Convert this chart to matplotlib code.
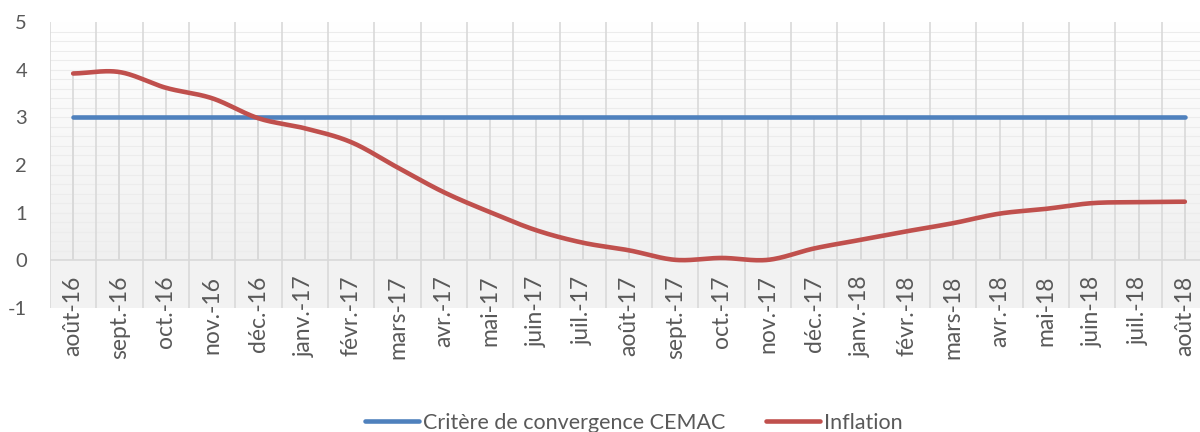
import numpy as np
import matplotlib.pyplot as plt
from matplotlib.colors import LinearSegmentedColormap
from matplotlib.lines import Line2D

months = ["août-16", "sept.-16", "oct.-16", "nov.-16", "déc.-16", "janv.-17", "févr.-17",
          "mars-17", "avr.-17", "mai-17", "juin-17", "juil.-17", "août-17", "sept.-17",
          "oct.-17", "nov.-17", "déc.-17", "janv.-18", "févr.-18", "mars-18", "avr.-18",
          "mai-18", "juin-18", "juil.-18", "août-18"]
critere = [3.0] * len(months)
inflation = [3.92, 3.95, 3.62, 3.40, 2.98, 2.77, 2.48, 1.95, 1.43, 1.01, 0.63, 0.37, 0.21,
             0.01, 0.05, 0.01, 0.25, 0.43, 0.61, 0.78, 0.98, 1.08, 1.20, 1.22, 1.23]

BLUE = "#4F81BD"
RED = "#C0504D"
TXT = "#595959"
GRID = "#d9d9d9"

plt.rcParams["font.family"] = ["Lato", "DejaVu Sans"]
plt.rcParams["axes.unicode_minus"] = False


def smooth(xs, ys, n=24):
    # Catmull-Rom curve through the points, close to Excel's "smoothed line"
    xs = np.asarray(xs, float)
    ys = np.asarray(ys, float)
    px = np.concatenate([[2 * xs[0] - xs[1]], xs, [2 * xs[-1] - xs[-2]]])
    py = np.concatenate([[ys[0]], ys, [ys[-1]]])
    outx, outy = [], []
    t = np.linspace(0, 1, n, endpoint=False)
    for i in range(1, len(px) - 2):
        for p, out in ((px, outx), (py, outy)):
            p0, p1, p2, p3 = p[i - 1], p[i], p[i + 1], p[i + 2]
            out.extend(0.5 * (2 * p1 + (-p0 + p2) * t
                              + (2 * p0 - 5 * p1 + 4 * p2 - p3) * t ** 2
                              + (-p0 + 3 * p1 - 3 * p2 + p3) * t ** 3))
    outx.append(xs[-1])
    outy.append(ys[-1])
    return np.array(outx), np.array(outy)


x = np.arange(len(months))

fig = plt.figure(figsize=(12, 4.32), dpi=100)
ax = fig.add_axes([50 / 1200, 1 - 308 / 432, 1158 / 1200, 286 / 432])
ax.set_xlim(-0.5, len(months) - 0.5)
ax.set_ylim(-1, 5)

# background: soft gradient in the plot area, grey band for the category labels
cmap = LinearSegmentedColormap.from_list("bg", ["#ffffff", "#f0f0f0"])
grad = np.linspace(0, 1, 256).reshape(-1, 1)
ax.imshow(grad, extent=[-0.5, len(months) - 0.5, 0, 5], aspect="auto",
          cmap=cmap, origin="upper", zorder=0)
ax.axhspan(-1, 0, color="#f2f2f2", zorder=0)

for yy in np.arange(0.2, 5.0, 0.2):
    ax.axhline(yy, color="#ececec", lw=0.8, zorder=1)
ax.axhline(0, color=GRID, lw=1.2, zorder=1)
for b in np.arange(-0.5, len(months), 1.0):
    ax.axvline(b, color=GRID, lw=1.2, zorder=1)

# drop lines
ax.vlines(x, 0, critere, color=GRID, lw=1.2, zorder=1)
ax.vlines(x, 0, inflation, color=GRID, lw=1.2, zorder=1)

ax.plot(x, critere, color=BLUE, lw=3.3, solid_capstyle="round", zorder=3)
sx, sy = smooth(x, inflation)
ax.plot(sx, sy, color=RED, lw=3.3, solid_capstyle="round", zorder=4)

for s in ax.spines.values():
    s.set_visible(False)

ax.set_xticks([])
ax.set_yticks(range(-1, 6))
ax.tick_params(axis="y", length=0, pad=16.5, labelsize=14.5, labelcolor=TXT)
for i, m in enumerate(months):
    ax.text(i, -0.32, m, rotation=90, ha="center", va="top", fontsize=16.5,
            color=TXT, clip_on=False)

handles = [Line2D([], [], color=BLUE, lw=3.3, solid_capstyle="round"),
           Line2D([], [], color=RED, lw=3.3, solid_capstyle="round")]
fig.legend(handles, ["Critère de convergence CEMAC", "Inflation"], loc="center",
           bbox_to_anchor=(634 / 1200, 1 - 423 / 432), ncol=2, frameon=False,
           fontsize=15.5, labelcolor=TXT, handlelength=2.5, handletextpad=0.2,
           columnspacing=1.9)

fig.savefig("out.png", dpi=100)
